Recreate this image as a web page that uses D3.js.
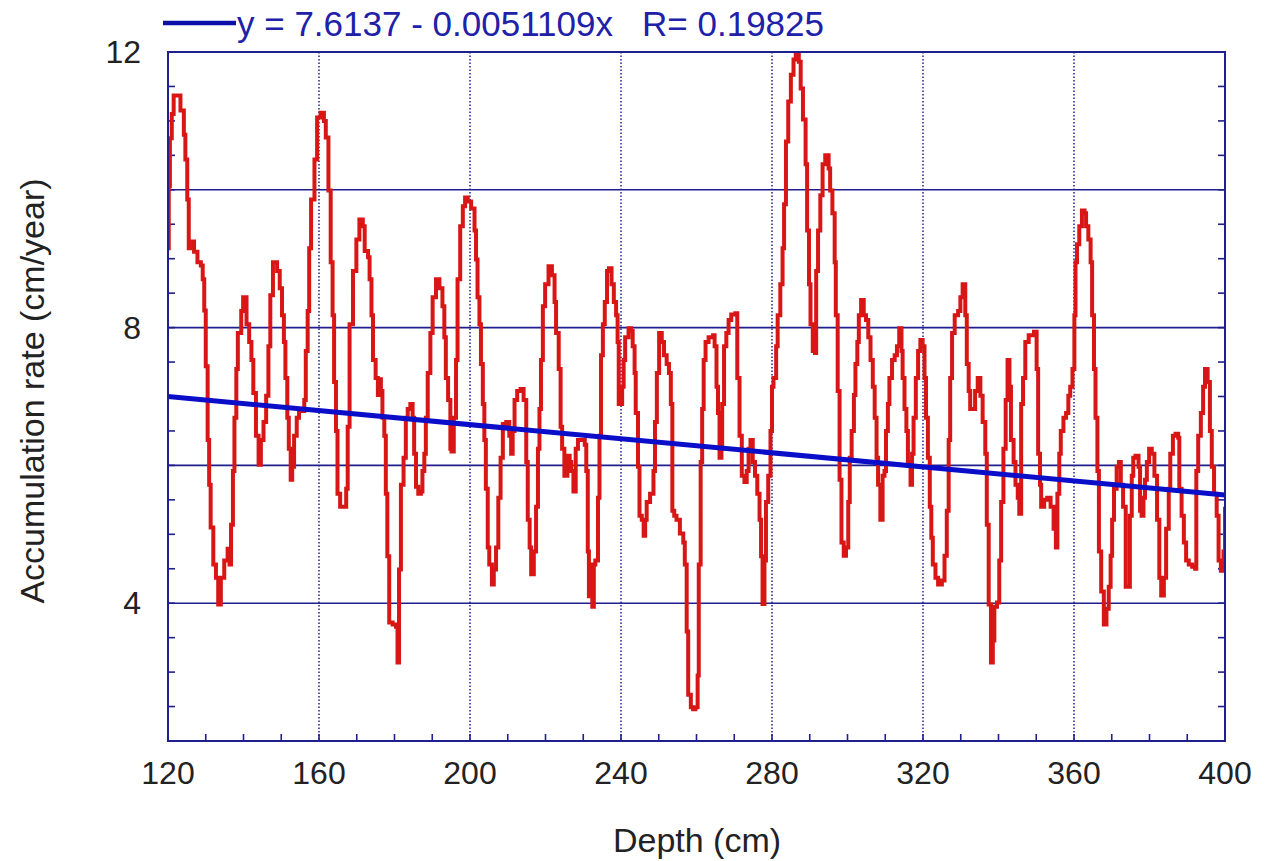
<!DOCTYPE html>
<html>
<head>
<meta charset="utf-8">
<script src="https://cdn.jsdelivr.net/npm/d3@7"></script>
<style>
  html, body { margin: 0; padding: 0; background: #ffffff; }
  svg text { font-family: "Liberation Sans", Arial, Helvetica, sans-serif; }
</style>
</head>
<body>
<svg id="chart" width="1265" height="861"></svg>
<script>
// Core depth (cm) and accumulation rate (cm/year) record
const depth = [
  120.0,120.2,120.5,121.0,121.5,122.5,123.3,124.2,124.6,125.1,125.5,126.0,126.9,127.8,128.7,129.2,129.6,130.0,130.5,130.9,
  131.3,132.0,132.7,133.3,134.0,134.9,135.8,136.3,136.7,137.2,137.6,138.1,138.5,139.4,139.9,140.8,141.5,142.1,142.6,143.3,
  144.0,144.6,145.3,146.0,146.6,147.1,147.8,148.9,149.6,150.2,150.7,151.1,151.6,152.0,152.5,152.9,153.4,154.1,154.7,155.6,
  156.1,156.5,157.0,157.4,157.9,158.8,159.5,160.4,161.3,161.8,162.5,163.1,163.6,164.0,164.5,164.9,165.6,166.8,167.2,167.6,
  168.1,169.0,169.9,170.7,171.6,172.1,173.0,173.4,173.9,174.3,175.0,175.6,176.1,176.4,176.8,177.3,177.7,178.1,178.6,179.5,
  180.4,180.8,181.2,181.7,182.4,183.0,183.5,184.2,184.8,185.2,185.7,186.3,187.0,187.4,187.9,188.3,188.8,189.5,190.1,191.0,
  191.9,192.7,193.2,193.6,194.2,194.8,195.1,195.7,196.3,196.7,197.4,198.1,198.7,199.4,200.3,201.2,201.6,202.0,202.5,202.9,
  203.4,203.8,204.2,204.7,205.1,205.8,206.3,206.9,207.5,208.1,208.7,209.6,210.4,210.9,211.3,211.8,212.5,213.4,214.2,214.9,
  215.3,215.8,216.2,216.9,217.5,218.0,218.4,218.8,219.3,219.9,220.8,221.7,222.4,222.8,223.5,224.0,224.4,225.0,225.8,226.4,
  226.8,227.4,228.0,228.6,229.5,230.4,230.8,231.2,231.5,231.9,232.4,232.8,233.2,233.9,234.3,234.7,235.2,235.7,236.3,236.8,
  237.5,238.1,238.7,239.1,239.4,239.8,240.3,240.7,241.1,242.0,242.7,243.1,243.6,243.9,244.5,244.9,245.5,246.0,246.4,246.8,
  247.7,248.6,249.0,249.5,250.1,250.8,251.4,252.1,252.7,253.2,253.6,254.1,254.7,255.6,256.5,256.9,257.4,257.8,258.5,259.1,
  259.7,260.3,260.6,261.1,261.5,261.9,262.4,263.2,264.4,264.8,265.3,265.7,266.1,266.6,266.8,267.3,267.9,268.5,269.2,270.3,
  270.8,271.4,272.0,272.7,273.3,273.8,274.3,274.9,275.5,276.1,276.7,277.1,277.5,278.0,278.4,279.0,279.6,280.0,280.4,281.1,
  281.5,282.2,282.8,283.2,283.7,284.3,285.0,285.7,286.3,287.1,287.6,288.2,288.9,289.3,289.8,290.2,290.8,291.4,291.7,292.2,
  292.8,293.4,294.1,295.0,295.4,296.0,296.6,296.9,297.4,297.9,298.4,299.0,299.6,300.2,300.6,301.1,301.7,302.1,302.6,303.0,
  303.6,304.3,304.9,305.5,306.1,306.7,307.2,307.7,308.1,308.7,309.3,309.8,310.2,310.7,311.1,311.8,312.5,313.1,313.7,314.3,
  314.6,315.1,315.6,316.0,316.7,317.1,317.5,318.1,318.7,319.3,319.9,320.4,320.8,321.3,321.8,322.2,322.6,323.3,324.0,325.0,
  325.7,326.3,326.8,327.2,327.7,328.4,329.3,329.9,330.5,331.2,331.6,332.1,332.5,333.1,333.8,334.5,335.2,335.8,336.5,336.9,
  337.4,338.0,338.5,338.9,339.6,340.2,340.7,341.3,341.9,342.4,342.9,343.3,344.0,344.5,345.1,345.5,346.0,346.5,347.1,348.0,
  349.4,350.1,350.5,351.0,351.3,352.1,352.9,353.8,354.6,355.2,355.6,356.1,356.5,357.2,357.9,358.5,359.0,359.6,360.1,360.4,
  360.8,361.4,362.1,362.8,363.2,363.8,364.4,364.8,365.3,365.7,366.2,366.6,367.2,367.9,368.6,369.2,369.7,370.1,370.6,371.3,
  371.9,372.4,373.0,373.7,374.4,374.8,375.3,375.7,376.3,377.1,377.5,377.9,378.4,378.8,379.3,379.9,380.6,381.3,382.0,382.6,
  383.1,383.8,384.4,385.1,385.5,386.2,386.9,387.6,387.9,388.5,389.1,389.7,390.4,391.3,392.1,392.4,392.9,393.6,394.2,394.7,
  395.4,396.0,396.5,397.1,397.8,398.3,398.9,399.6,400.0
];
const rate = [
  9.15,10.05,10.75,11.10,11.37,11.37,11.15,10.80,10.44,9.86,9.15,9.25,9.10,8.95,8.90,8.70,8.25,7.44,6.37,5.72,
  5.10,4.56,4.37,3.98,4.37,4.62,4.79,4.56,5.14,5.92,6.69,7.40,7.92,8.24,8.44,8.05,7.79,7.53,7.05,6.43,
  6.01,6.37,6.63,7.01,7.73,8.47,8.95,8.82,8.57,8.18,7.79,7.27,6.69,6.24,5.79,5.98,6.43,6.69,6.79,6.79,
  6.95,7.66,8.24,9.15,9.86,10.44,11.05,11.12,11.00,10.76,9.99,8.95,8.18,7.21,6.50,5.59,5.40,5.40,5.66,6.56,
  8.05,8.82,9.28,9.57,9.47,9.11,9.02,8.70,8.18,7.53,7.27,7.02,7.25,7.08,6.69,6.43,5.59,4.68,3.72,3.69,
  3.66,3.14,4.49,5.72,6.11,6.69,6.82,6.89,6.69,6.17,5.69,5.59,5.62,5.92,6.17,6.69,7.34,7.92,8.44,8.70,
  8.57,8.31,7.86,7.27,6.95,6.24,6.20,6.69,7.53,8.70,9.47,9.76,9.89,9.83,9.73,9.41,8.99,8.44,8.05,7.47,
  6.89,6.37,5.66,4.81,4.56,4.27,4.49,4.81,5.53,6.11,6.60,6.63,6.43,6.17,6.50,6.95,7.08,7.11,6.95,6.05,
  5.21,4.81,4.42,4.75,5.40,6.24,6.82,7.53,8.31,8.63,8.89,8.76,8.37,7.92,7.40,6.56,6.24,5.85,6.14,6.05,
  5.92,5.62,6.24,6.37,6.37,6.30,5.92,4.75,4.10,4.56,3.95,4.56,4.62,5.53,6.43,7.60,8.05,8.37,8.82,8.86,
  8.63,8.37,8.18,7.79,6.89,6.89,7.14,7.53,7.86,7.99,7.95,7.73,7.34,6.76,5.98,5.27,5.21,4.98,5.21,5.47,
  5.59,5.92,6.63,7.34,7.92,7.79,7.60,7.47,7.34,6.89,5.34,5.27,5.21,5.01,4.88,4.56,3.59,2.67,2.49,2.46,
  2.49,2.95,4.56,6.05,6.82,7.53,7.79,7.86,7.89,7.73,7.14,6.76,6.11,6.24,6.89,7.73,7.92,8.11,8.19,8.21,
  7.27,6.43,5.85,5.76,5.92,6.24,6.37,6.05,5.85,5.59,5.21,4.68,3.99,4.62,5.47,5.85,6.50,7.14,7.27,7.73,
  8.18,8.63,9.15,9.79,10.70,11.28,11.67,11.89,11.96,11.86,11.47,11.02,10.37,9.41,8.63,8.05,7.66,7.63,8.82,9.41,
  9.92,10.37,10.50,10.31,9.99,9.66,8.95,8.18,7.08,5.79,4.88,4.69,4.81,5.47,6.11,6.50,7.02,7.47,7.79,8.18,
  8.40,8.18,8.11,7.86,7.53,7.14,6.69,6.11,5.72,5.21,5.85,5.92,6.50,6.89,7.27,7.53,7.60,7.73,7.99,7.66,
  7.27,6.82,6.50,6.05,5.72,6.17,6.69,7.27,7.66,7.82,7.73,7.27,6.69,6.11,5.40,4.95,4.56,4.37,4.27,4.33,
  4.69,5.34,6.37,7.27,7.92,8.18,8.24,8.44,8.63,8.18,7.47,7.08,6.82,6.82,7.08,7.27,7.01,6.63,6.17,5.14,
  3.98,3.14,3.46,3.95,4.01,4.62,5.47,6.24,6.95,7.53,7.14,6.37,6.05,5.72,5.53,5.30,6.89,7.27,7.79,7.89,
  7.94,7.40,6.17,5.72,5.40,5.50,5.53,5.40,5.08,4.81,5.59,6.17,6.50,6.69,6.76,7.01,7.14,7.40,8.18,8.95,
  9.21,9.47,9.70,9.66,9.47,9.28,8.95,8.18,7.40,6.69,5.92,4.75,4.17,3.69,3.92,4.24,4.69,5.21,5.66,5.98,
  6.05,5.72,5.40,4.24,4.24,5.27,5.85,6.11,6.14,5.98,5.34,5.27,5.53,5.79,6.05,6.24,6.17,5.85,5.21,4.37,
  4.11,4.37,5.08,5.66,6.17,6.43,6.46,6.40,5.66,5.27,4.88,4.62,4.56,4.53,4.50,5.92,6.43,6.76,7.14,7.40,
  7.21,6.50,5.98,5.59,5.27,4.62,4.47,4.75,5.40
];

// Linear fit reported in the legend
const fitIntercept = 7.6137;
const fitSlope = -0.0051109;
const fitLabel = "y = 7.6137 - 0.0051109x   R= 0.19825";

// Axis ticks
const xTickLabels = [120, 160, 200, 240, 280, 320, 360, 400];
const yTickLabels = [4, 8, 12];
const yGridValues = [4, 6, 8, 10];
const xGridValues = [160, 200, 240, 280, 320, 360];

const xTitle = "Depth (cm)";
const yTitle = "Accumulation rate (cm/year)";

// ---- layout ----
const svg = d3.select("#chart");
const plotL = 168, plotR = 1225, plotT = 52, plotB = 741;
const frameColor = "#1f1f8f";

const x = d3.scaleLinear().domain([120, 400]).range([plotL, plotR]);
const y = d3.scaleLinear().domain([2, 12]).range([plotB, plotT]);

// clip for plot contents
svg.append("defs").append("clipPath").attr("id", "plotClip")
  .append("rect").attr("x", plotL).attr("y", plotT - 2)
  .attr("width", plotR - plotL).attr("height", plotB - plotT + 2);

// horizontal grid (solid)
svg.append("g").selectAll("line").data(yGridValues).join("line")
  .attr("x1", plotL).attr("x2", plotR)
  .attr("y1", d => y(d)).attr("y2", d => y(d))
  .attr("stroke", frameColor).attr("stroke-width", 1.6);

// vertical grid (dotted)
svg.append("g").selectAll("line").data(xGridValues).join("line")
  .attr("x1", d => x(d)).attr("x2", d => x(d))
  .attr("y1", plotT).attr("y2", plotB)
  .attr("stroke", frameColor).attr("stroke-width", 1.5)
  .attr("stroke-dasharray", "1.5,2");

// minor ticks: bottom every 10 cm, left/right every 0.5
const xMinor = d3.range(130, 400, 10);
svg.append("g").selectAll("line").data(xMinor).join("line")
  .attr("x1", d => x(d)).attr("x2", d => x(d))
  .attr("y1", plotB).attr("y2", plotB - 7)
  .attr("stroke", frameColor).attr("stroke-width", 1.6);
const yMinor = d3.range(2.5, 12, 0.5);
svg.append("g").selectAll("line").data(yMinor).join("line")
  .attr("x1", plotL).attr("x2", plotL + 7)
  .attr("y1", d => y(d)).attr("y2", d => y(d))
  .attr("stroke", frameColor).attr("stroke-width", 1.6);
svg.append("g").selectAll("line").data(yMinor).join("line")
  .attr("x1", plotR).attr("x2", plotR - 7)
  .attr("y1", d => y(d)).attr("y2", d => y(d))
  .attr("stroke", frameColor).attr("stroke-width", 1.6);

// accumulation-rate record
const series = depth.map((d, i) => ({ d, v: rate[i] }));
const rateLine = d3.line().x(p => x(p.d)).y(p => y(p.v)).curve(d3.curveStepAfter);
svg.append("path")
  .datum(series)
  .attr("clip-path", "url(#plotClip)")
  .attr("d", rateLine)
  .attr("fill", "none")
  .attr("stroke", "#d81616")
  .attr("stroke-width", 4)
  .attr("stroke-linejoin", "miter");

// regression line
const fitPts = [120, 400].map(d => ({ d, v: fitIntercept + fitSlope * d }));
svg.append("path")
  .datum(fitPts)
  .attr("d", d3.line().x(p => x(p.d)).y(p => y(p.v)))
  .attr("stroke", "#0a0ec8")
  .attr("stroke-width", 5)
  .attr("fill", "none");

// frame
svg.append("rect")
  .attr("x", plotL).attr("y", plotT)
  .attr("width", plotR - plotL).attr("height", plotB - plotT)
  .attr("fill", "none").attr("stroke", frameColor).attr("stroke-width", 2);

// tick labels
svg.append("g").selectAll("text").data(xTickLabels).join("text")
  .attr("x", d => x(d)).attr("y", 784)
  .attr("text-anchor", "middle")
  .attr("font-size", 32).attr("fill", "#222")
  .text(d => d);
svg.append("g").selectAll("text").data(yTickLabels).join("text")
  .attr("x", 141).attr("y", d => y(d) + 11)
  .attr("text-anchor", "end")
  .attr("font-size", 32).attr("fill", "#222")
  .text(d => d);

// axis titles
svg.append("text")
  .attr("x", 697).attr("y", 852)
  .attr("text-anchor", "middle")
  .attr("font-size", 34).attr("fill", "#222")
  .text(xTitle);
svg.append("text")
  .attr("transform", "translate(44,391) rotate(-90)")
  .attr("text-anchor", "middle")
  .attr("font-size", 34).attr("fill", "#222")
  .text(yTitle);

// legend
svg.append("line")
  .attr("x1", 163).attr("x2", 236).attr("y1", 23).attr("y2", 23)
  .attr("stroke", "#0c10a8").attr("stroke-width", 4.5);
svg.append("text")
  .attr("x", 237).attr("y", 36)
  .attr("font-size", 35).attr("fill", "#2020a8")
  .style("white-space", "pre")
  .text(fitLabel);
</script>
</body>
</html>
